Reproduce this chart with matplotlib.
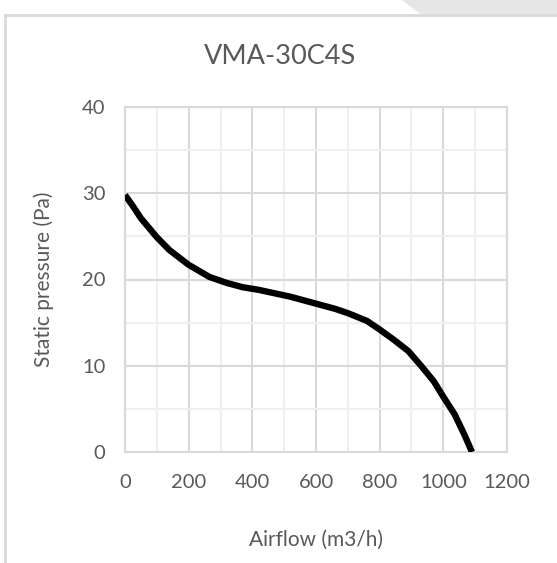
import numpy as np
import matplotlib.pyplot as plt
from matplotlib.lines import Line2D
from matplotlib.patches import Polygon

plt.rcParams['font.family'] = ['Lato', 'DejaVu Sans']

# Fan curve
airflow = [0, 25, 50, 75, 100, 140, 200, 265, 320, 370, 420, 470, 520, 560,
           600, 660, 700, 760, 800, 845, 890, 930, 970, 1000, 1035, 1065, 1090]
pressure = [29.8, 28.5, 27.1, 26.0, 24.9, 23.4, 21.7, 20.3, 19.6, 19.1, 18.8,
            18.4, 18.0, 17.6, 17.2, 16.6, 16.1, 15.2, 14.2, 13.0, 11.7, 10.0,
            8.2, 6.4, 4.4, 2.1, 0.0]

x_ticks = [0, 200, 400, 600, 800, 1000, 1200]
y_ticks = [0, 10, 20, 30, 40]

W, H = 557, 563
text_col = '#595959'
major_col = '#d9d9d9'
minor_col = '#efefef'

fig = plt.figure(figsize=(W / 100, H / 100), dpi=100)
fig.patch.set_facecolor('white')

# plot area in pixel coords: left 125, right 507, top 107, bottom 452
ax = fig.add_axes([125 / W, 1 - 452 / H, (507 - 125) / W, (452 - 107) / H])

ax.plot(airflow, pressure, color='black', lw=4.6, solid_capstyle='butt', zorder=3)

ax.set_xlim(0, 1200)
ax.set_ylim(0, 40)
ax.set_xticks(x_ticks)
ax.set_yticks(y_ticks)
ax.set_xticks(np.arange(100, 1200, 200), minor=True)
ax.set_yticks(np.arange(5, 40, 10), minor=True)

ax.grid(which='major', color=major_col, lw=1.5, zorder=0)
ax.grid(which='minor', color=minor_col, lw=1.5, zorder=0)
for s in ax.spines.values():
    s.set_color(major_col)
    s.set_linewidth(1.5)

ax.tick_params(which='both', length=0)
ax.tick_params(axis='x', pad=16, labelsize=14.5, labelcolor=text_col)
ax.tick_params(axis='y', pad=14, labelsize=14.5, labelcolor=text_col)

ax.set_xlabel('Airflow (m3/h)', fontsize=15, color=text_col, labelpad=28)
ax.set_ylabel('Static pressure (Pa)', fontsize=15, color=text_col, labelpad=20)

fig.text(280 / W, 1 - 56 / H, 'VMA-30C4S', ha='center', va='center',
         fontsize=19.5, color=text_col)

# chart frame and the grey tab in the top right corner
fig.add_artist(Polygon([(402 / W, 1.0), (1.0, 1.0), (1.0, 1 - 14 / H), (420 / W, 1 - 14 / H)],
                       closed=True, transform=fig.transFigure,
                       facecolor='#e7e6e6', edgecolor='none'))
fig.add_artist(Line2D([5 / W, 1.0], [1 - 15 / H, 1 - 15 / H], transform=fig.transFigure,
                      color=major_col, lw=2))
fig.add_artist(Line2D([5 / W, 5 / W], [0, 1 - 15 / H], transform=fig.transFigure,
                      color=major_col, lw=2))

fig.savefig('out.png', dpi=100)
